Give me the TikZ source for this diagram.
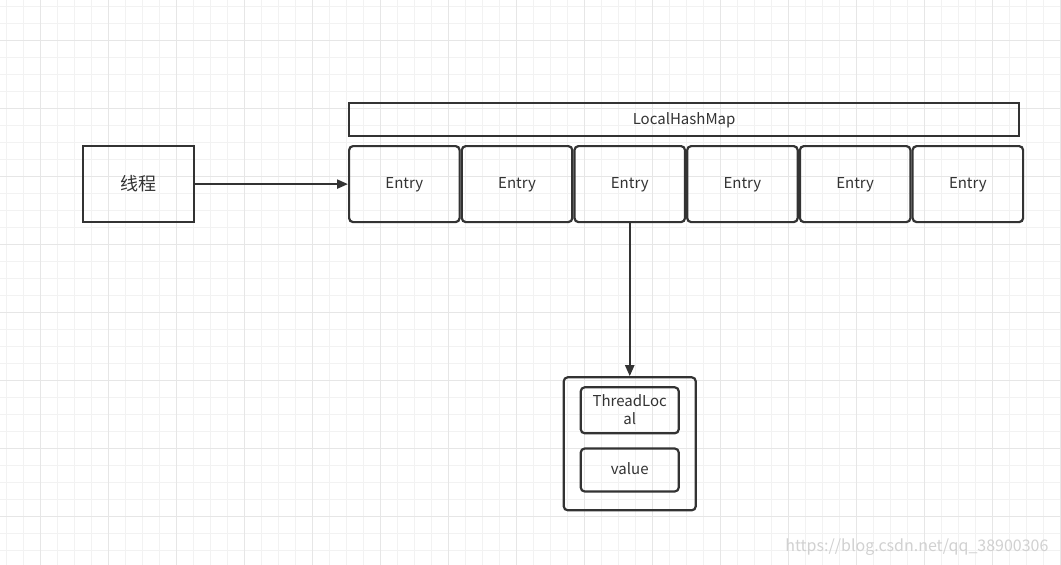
\documentclass[tikz,border=0pt]{standalone}
\usepackage{fontspec}
\setmainfont{Noto Sans CJK SC}
\usetikzlibrary{positioning, arrows.meta}

\definecolor{linegray}{HTML}{333333}
\definecolor{textgray}{HTML}{333333}
\definecolor{minorgray}{HTML}{F2F2F2}
\definecolor{majorgray}{HTML}{E6E6E6}

\tikzset{
    box/.style={rectangle, draw=linegray, line width=2.2pt, inner sep=0pt, align=center,
        font=\fontsize{15}{18}\selectfont, text=textgray, text depth=2pt},
    entrybox/.style={box, rounded corners=4pt, minimum width=110.5pt, minimum height=76pt},
    arr/.style={draw=linegray, line width=2.2pt, -{Triangle[length=11pt, width=9pt]}},
    minorgrid/.style={draw=minorgray, line width=1pt},
    majorgrid/.style={draw=majorgray, line width=1pt},
}

\begin{document}
\begin{tikzpicture}[x=1pt, y=-1pt]
    \useasboundingbox[fill=white] (0,0) rectangle (1061,565);

    % grid
    \foreach \k in {0,...,62} {\draw[minorgrid] ({6+17*\k},0) -- ({6+17*\k},565);}
    \foreach \k in {0,...,32} {\draw[minorgrid] (0,{6+17*\k}) -- (1061,{6+17*\k});}
    \foreach \k in {0,...,15} {\draw[majorgrid] ({40+68*\k},0) -- ({40+68*\k},565);}
    \foreach \k in {0,...,7} {\draw[majorgrid] (0,{40+68*\k}) -- (1061,{40+68*\k});}

    % entries
    \node[entrybox, anchor=north west] (e1) at (348,145) {Entry};
    \node[entrybox, right=0pt of e1] (e2) {Entry};
    \node[entrybox, right=0pt of e2] (e3) {Entry};
    \node[entrybox, right=0pt of e3] (e4) {Entry};
    \node[entrybox, right=0pt of e4] (e5) {Entry};
    \node[entrybox, right=0pt of e5] (e6) {Entry};

    \node[box, minimum width=670pt, minimum height=33pt, anchor=north west] (map) at (348,102) {LocalHashMap};

    \node[box, minimum width=111pt, minimum height=76pt, font=\fontsize{18}{20}\selectfont, left=153pt of e1] (thread) {线程};

    % entry content
    \node[box, rounded corners=4pt, minimum width=132pt, minimum height=133pt, below=153pt of e3] (holder) {};
    \node[box, rounded corners=4pt, minimum width=98pt, minimum height=46pt, anchor=north] (tl) at ([yshift=-10pt]holder.north) {ThreadLoc\\al};
    \node[box, rounded corners=4pt, minimum width=98pt, minimum height=43pt, below=13pt of tl] (val) {value};

    \draw[arr] (thread) -- (e1);
    \draw[arr] (e3) -- (holder);

    \node[anchor=east, text=black!18, font=\fontsize{16}{18}\selectfont] (mark) at (1052,547) {https://blog.csdn.net/qq\_38900306};
\end{tikzpicture}
\end{document}
